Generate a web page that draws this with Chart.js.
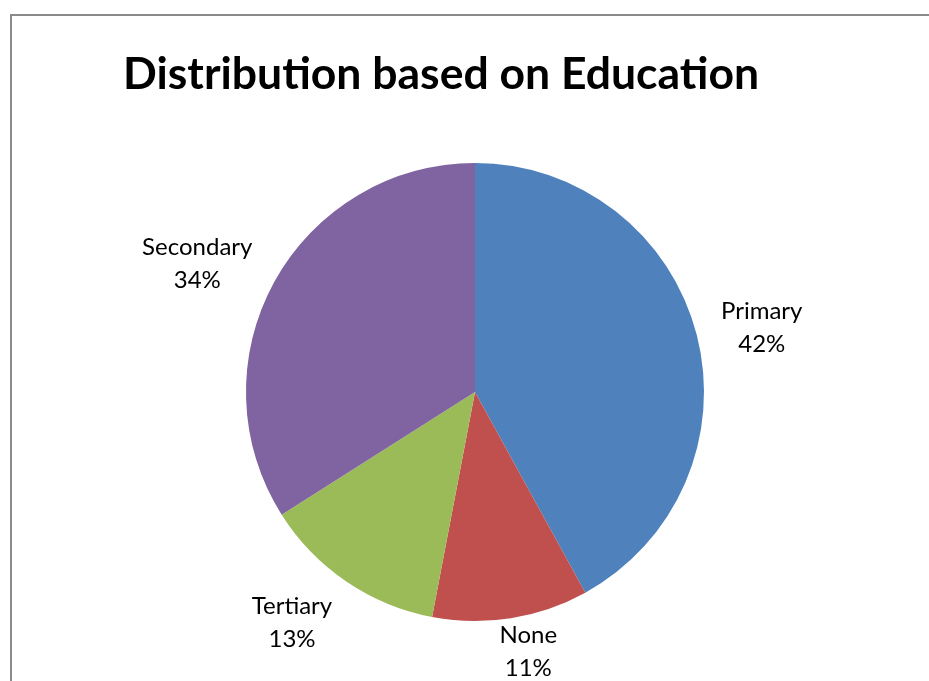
<!DOCTYPE html>
<html>
<head>
    <meta charset="utf-8">
    <title>Distribution based on Education</title>
    <script src="https://cdn.jsdelivr.net/npm/chart.js"></script>
</head>
<style>
    body,
    html {
        margin: 0;
        width: 929px;
        height: 681px;
        overflow: hidden;
        background: #fff;
    }

    #frame {
        position: absolute;
        left: 10px;
        top: 14px;
        width: 1000px;
        height: 800px;
        border-left: 2px solid #8a8a8a;
        border-top: 2px solid #8a8a8a;
    }

    #wrap {
        position: absolute;
        left: 0;
        top: 0;
        width: 929px;
        height: 681px;
    }
</style>

<body>
    <div id="frame"></div>
    <div id="wrap">
        <canvas id="myChart"></canvas>
    </div>

    <script>
        const categories = ["Primary", "None", "Tertiary", "Secondary"];
        const shares = [42, 11, 13, 34];
        const sliceColors = ["#4F81BD", "#C0504D", "#9BBB59", "#8064A2"];

        // category name and percentage, drawn just outside each slice
        const outsideLabels = {
            id: "outsideLabels",
            afterDatasetsDraw(chart) {
                const ctx = chart.ctx;
                const meta = chart.getDatasetMeta(0);
                const fontSize = 24;
                const lineGap = 33;
                ctx.save();
                ctx.font = fontSize + "px Lato";
                ctx.fillStyle = "#000";
                ctx.textAlign = "center";
                ctx.textBaseline = "middle";
                meta.data.forEach(function (arc, i) {
                    const mid = (arc.startAngle + arc.endAngle) / 2;
                    const ux = Math.cos(mid);
                    const uy = Math.sin(mid);
                    const lines = [categories[i], shares[i] + "%"];
                    const halfW = Math.max(...lines.map(t => ctx.measureText(t).width)) / 2;
                    const halfH = lineGap;
                    const dist = arc.outerRadius + 25;
                    const side = Math.max(-1, Math.min(1, ux * 3));
                    let cx = arc.x + ux * dist + side * halfW;
                    let cy = arc.y + uy * dist + uy * halfH * 0.6 + 4;
                    // keep the bottom label from running off the canvas
                    cy = Math.min(cy, chart.height - halfH + 4);
                    ctx.fillText(lines[0], cx, cy - lineGap / 2);
                    ctx.fillText(lines[1], cx, cy + lineGap / 2);
                });
                ctx.restore();
            }
        };

        const ctx = document.getElementById("myChart").getContext("2d");
        new Chart(ctx, {
            type: "pie",
            data: {
                labels: categories,
                datasets: [{
                    data: shares,
                    backgroundColor: sliceColors,
                    borderWidth: 0,
                }],
            },
            options: {
                responsive: true,
                maintainAspectRatio: false,
                animation: false,
                layout: {
                    padding: { left: 123, right: 102, top: 0, bottom: 60 },
                },
                plugins: {
                    legend: { display: false },
                    tooltip: { enabled: false },
                    title: {
                        display: true,
                        align: "start",
                        text: "Distribution based on Education",
                        color: "#000",
                        font: { family: "Lato", size: 44.5, weight: "bold", lineHeight: 1.2 },
                        padding: { top: 48, bottom: 61.6 },
                    },
                },
            },
            plugins: [outsideLabels],
        });
    </script>
</body>

</html>
